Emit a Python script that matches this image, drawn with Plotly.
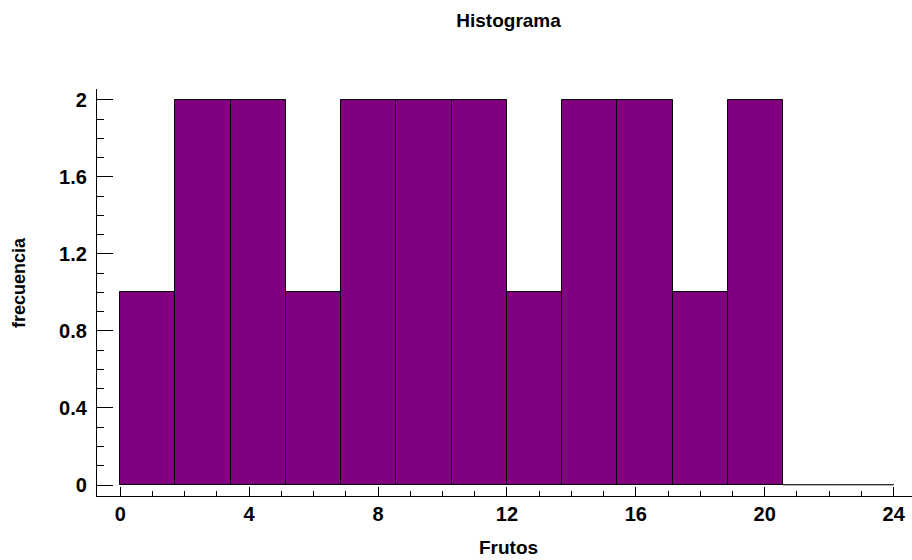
import plotly.graph_objects as go

# Data
counts = [1, 2, 2, 1, 2, 2, 2, 1, 2, 2, 1, 2, 0, 0]
bin_start = 0.0
bin_width = 24 / 14
x_ticks = [0, 4, 8, 12, 16, 20, 24]
y_ticks = [0, 0.4, 0.8, 1.2, 1.6, 2]
title_text = "Histograma"
x_title = "Frutos"
y_title = "frecuencia"

centers = [bin_start + (i + 0.5) * bin_width for i in range(len(counts))]

FONT = "Liberation Sans, Arial, sans-serif"

fig = go.Figure()
fig.add_trace(go.Bar(
    x=centers, y=counts, width=bin_width,
    marker=dict(color="#800080", line=dict(color="black", width=1)),
    showlegend=False, hoverinfo="x+y",
))

# outline of empty bins (drawn at zero height)
ex, ey = [], []
for i, c in enumerate(counts):
    if c == 0:
        ex += [bin_start + i * bin_width, bin_start + (i + 1) * bin_width, None]
        ey += [0, 0, None]
fig.add_trace(go.Scatter(x=ex, y=ey, mode="lines",
                         line=dict(color="#606060", width=1.2),
                         showlegend=False, hoverinfo="skip"))

fig.update_layout(
    width=912, height=560,
    margin=dict(l=97, r=0, t=89, b=64),
    plot_bgcolor="white", paper_bgcolor="white",
    font=dict(family=FONT, size=20, color="black"),
    title=dict(text="<b>%s</b>" % title_text, x=0.505, xref="paper",
               y=1 - 20 / 560, yanchor="middle",
               font=dict(family=FONT, size=19, color="black")),
    bargap=0,
    xaxis=dict(
        range=[-0.72, 24.57], tickvals=x_ticks,
        ticktext=["<b>%g</b>" % v for v in x_ticks],
        ticks="inside", ticklen=9, tickwidth=1, tickcolor="black",
        showline=True, linecolor="black", linewidth=1.3,
        showgrid=False, zeroline=False,
        minor=dict(ticks="inside", ticklen=5, dtick=1, tick0=0,
                   tickcolor="black", tickwidth=1, showgrid=False),
        tickfont=dict(family=FONT, size=20, color="black"),
    ),
    yaxis=dict(
        range=[-0.057, 2.056], tickvals=y_ticks,
        ticktext=["<b>%g</b>" % v for v in y_ticks],
        ticks="inside", ticklen=16, tickwidth=1, tickcolor="black",
        showline=True, linecolor="black", linewidth=1.3,
        showgrid=False, zeroline=False, ticklabelstandoff=5,
        minor=dict(ticks="inside", ticklen=7, dtick=0.1, tick0=0,
                   tickcolor="black", tickwidth=1, showgrid=False),
        tickfont=dict(family=FONT, size=20, color="black"),
    ),
    annotations=[
        dict(text="<b>%s</b>" % x_title, xref="paper", yref="paper",
             x=(508 - 97) / 815, y=(496 - 547) / 407, showarrow=False,
             xanchor="center", yanchor="middle",
             font=dict(family=FONT, size=19, color="black")),
        dict(text="<b>%s</b>" % y_title, xref="paper", yref="paper",
             x=(19 - 97) / 815, y=(496 - 283) / 407, showarrow=False,
             textangle=-90, xanchor="center", yanchor="middle",
             font=dict(family=FONT, size=18, color="black")),
    ],
)

fig.write_html("out.html")
